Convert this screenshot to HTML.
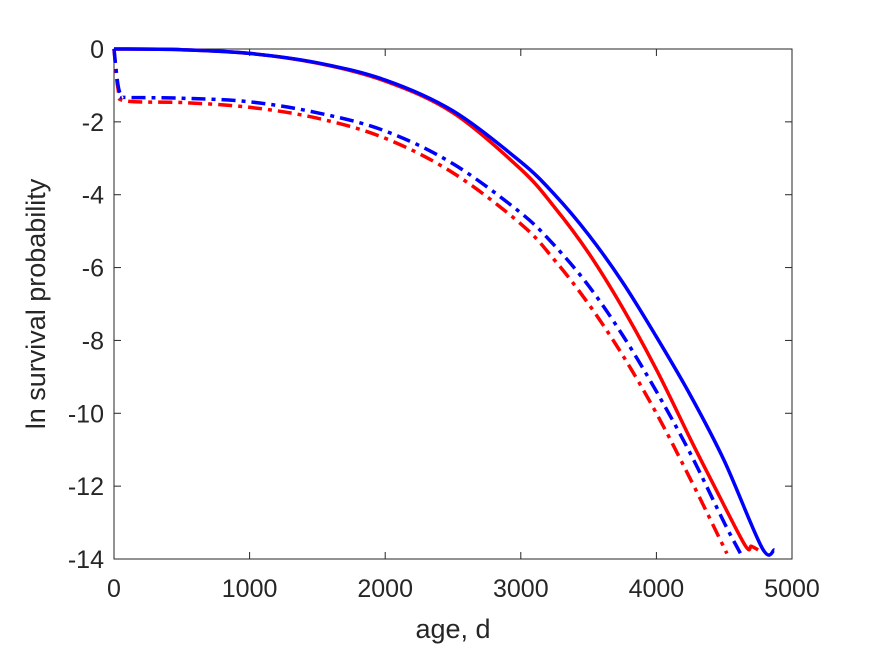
<!DOCTYPE html>
<html><head><meta charset="utf-8"><style>body{margin:0;background:#fff}svg{display:block;font-family:"Liberation Sans",Arial,sans-serif}</style></head>
<body>
<svg id="chart" width="875" height="656" viewBox="0 0 875 656"></svg>
<script>
const xTicks=[0,1000,2000,3000,4000,5000];
const yTicks=[0,-2,-4,-6,-8,-10,-12,-14];
const blueSolidAge=[0,500,1000,1500,2000,2500,3000,3250,3500,3750,4000,4250,4500,4780,4870];
const blueSolidVal=[0,-0.02,-0.12,-0.38,-0.85,-1.7,-3.1,-4.0,-5.1,-6.4,-7.9,-9.5,-11.3,-13.7,-13.75];
const redSolidAge=[0,500,1000,1500,2000,2500,3000,3250,3500,3750,4000,4250,4400,4650,4700,4750];
const redSolidVal=[0,-0.02,-0.12,-0.39,-0.88,-1.75,-3.3,-4.35,-5.6,-7.1,-8.8,-10.7,-11.8,-13.6,-13.65,-13.75];
const blueDashAge=[0,30,60,100,500,1000,1500,2000,2500,3000,3250,3500,3750,4000,4250,4500,4620];
const blueDashVal=[0,-1.0,-1.3,-1.33,-1.35,-1.45,-1.75,-2.25,-3.15,-4.5,-5.4,-6.5,-7.85,-9.4,-11.1,-13.0,-13.85];
const redDashAge=[0,30,80,500,1000,1500,2000,2500,3000,3250,3500,3750,4000,4250,4520];
const redDashVal=[0,-1.1,-1.42,-1.47,-1.6,-1.9,-2.45,-3.4,-4.8,-5.8,-7.0,-8.4,-10.0,-11.8,-13.85];
const L=114,R=792,T=49,B=559;
const sx=v=>L+(v-0)/5000*(R-L);
const sy=v=>T+(0-v)/14*(B-T);
const svg=document.getElementById('chart');
const NS='http://www.w3.org/2000/svg';
function mk(t,a){const e=document.createElementNS(NS,t);for(const k in a)e.setAttribute(k,a[k]);svg.appendChild(e);return e;}
const box=mk('rect',{x:L,y:T,width:R-L,height:B-T,fill:'#fff',stroke:'#262626','stroke-width':1});


xTicks.forEach(v=>{
 const x=sx(v);
 const t1=mk('line',{x1:x,x2:x,y1:B,y2:B-7,stroke:'#262626'});
 
 
 const t2=mk('line',{x1:x,x2:x,y1:T,y2:T+7,stroke:'#262626'});
 
 
 const tx=mk('text',{x:x,y:B+38,'text-anchor':'middle','font-size':25,fill:'#262626'});
 tx.textContent=v;
 
 
});
yTicks.forEach(v=>{
 const y=sy(v);
 const t1=mk('line',{x1:L,x2:L+7,y1:y,y2:y,stroke:'#262626'});
 
 
 const t2=mk('line',{x1:R,x2:R-7,y1:y,y2:y,stroke:'#262626'});
 
 
 const tx=mk('text',{x:L-10,y:y+9,'text-anchor':'end','font-size':25,fill:'#262626'});
 tx.textContent=v;
 
 
});
const xl=mk('text',{x:(L+R)/2,y:638,'text-anchor':'middle','font-size':27,fill:'#262626'});
xl.textContent='age, d';


const yl=mk('text',{x:0,y:0,'text-anchor':'middle','font-size':27,fill:'#262626',transform:`translate(45,${(T+B)/2}) rotate(-90)`});
yl.textContent='ln survival probability';


function series(ax,ay,color,dash,name){
 const P=ax.map((a,i)=>[sx(a),sy(ay[i])]);
 let d='M'+P[0][0].toFixed(1)+','+P[0][1].toFixed(1);
 for(let i=0;i<P.length-1;i++){
  const p0=P[Math.max(0,i-1)],p1=P[i],p2=P[i+1],p3=P[Math.min(P.length-1,i+2)];
  const c1=[p1[0]+(p2[0]-p0[0])/6,p1[1]+(p2[1]-p0[1])/6];
  const c2=[p2[0]-(p3[0]-p1[0])/6,p2[1]-(p3[1]-p1[1])/6];
  d+=` C${c1[0].toFixed(1)},${c1[1].toFixed(1)} ${c2[0].toFixed(1)},${c2[1].toFixed(1)} ${p2[0].toFixed(1)},${p2[1].toFixed(1)}`;
 }
 const p=mk('path',{d:d,fill:'none',stroke:color,'stroke-width':3.5,'stroke-linejoin':'round'});
 if(dash)p.setAttribute('stroke-dasharray',dash);
 
 
}
series(redDashAge,redDashVal,'#ff0000','14,6,4,6','red-dashdot-line');
series(blueDashAge,blueDashVal,'#0000ff','14,6,4,6','blue-dashdot-line');
series(redSolidAge,redSolidVal,'#ff0000',null,'red-solid-line');
series(blueSolidAge,blueSolidVal,'#0000ff',null,'blue-solid-line');
</script>
</body></html>
